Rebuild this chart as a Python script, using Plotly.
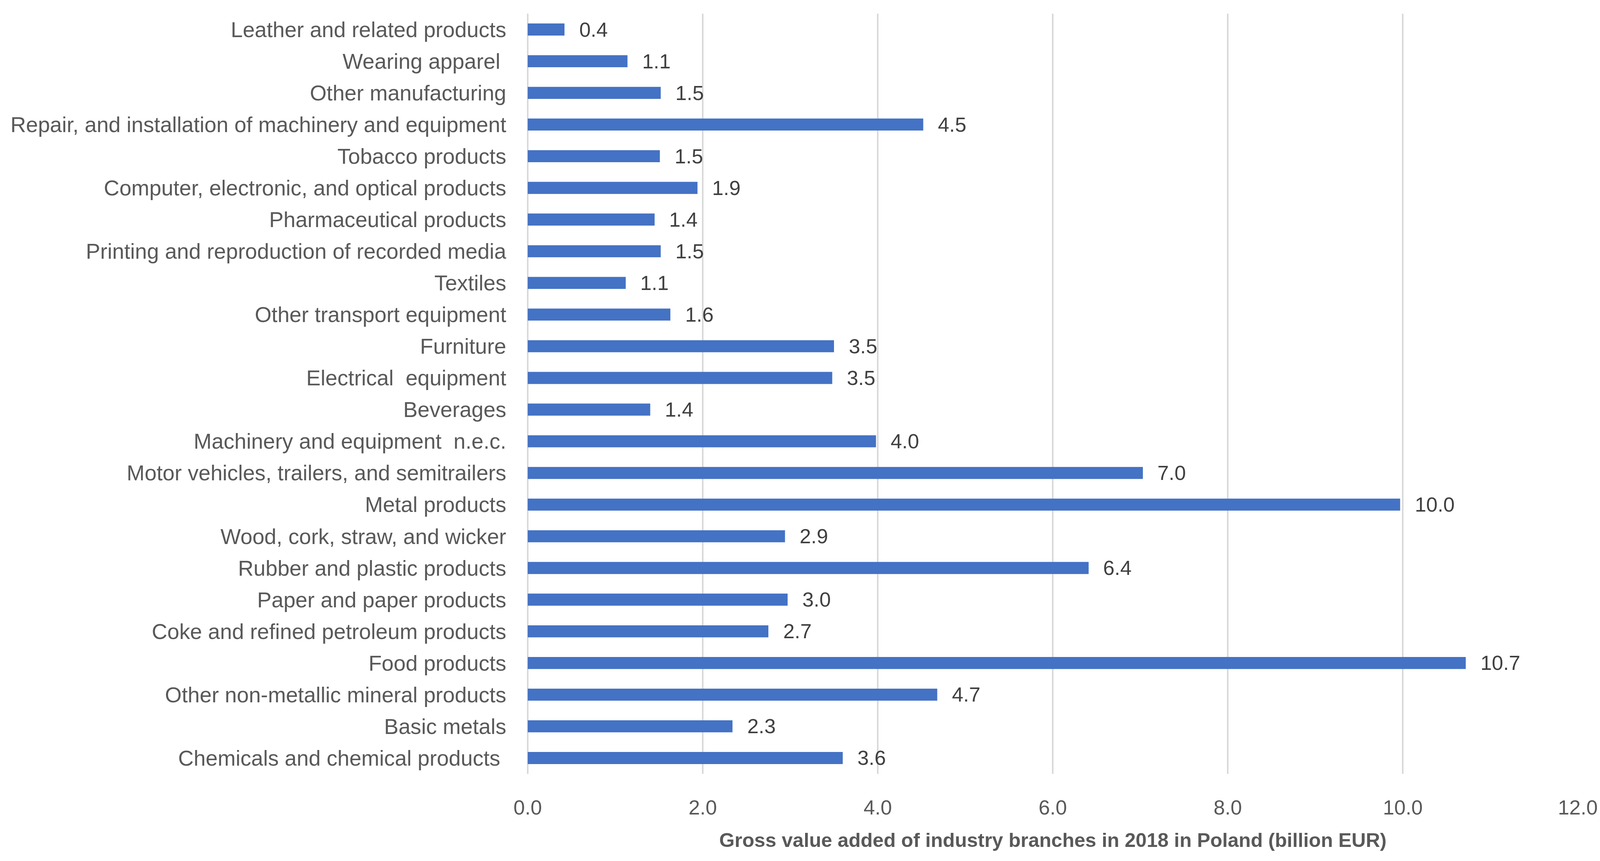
import plotly.graph_objects as go

categories = [
    "Leather and related products",
    "Wearing apparel ",
    "Other manufacturing",
    "Repair, and installation of machinery and equipment",
    "Tobacco products",
    "Computer, electronic, and optical products",
    "Pharmaceutical products",
    "Printing and reproduction of recorded media",
    "Textiles",
    "Other transport equipment",
    "Furniture",
    "Electrical  equipment",
    "Beverages",
    "Machinery and equipment  n.e.c.",
    "Motor vehicles, trailers, and semitrailers",
    "Metal products",
    "Wood, cork, straw, and wicker",
    "Rubber and plastic products",
    "Paper and paper products",
    "Coke and refined petroleum products",
    "Food products",
    "Other non-metallic mineral products",
    "Basic metals",
    "Chemicals and chemical products ",
]
values = [0.42, 1.14, 1.52, 4.52, 1.51, 1.94, 1.45, 1.52, 1.12, 1.63, 3.50, 3.48, 1.40,
          3.98, 7.03, 9.97, 2.94, 6.41, 2.97, 2.75, 10.72, 4.68, 2.34, 3.60]
value_labels = ["0.4", "1.1", "1.5", "4.5", "1.5", "1.9", "1.4", "1.5", "1.1", "1.6", "3.5", "3.5", "1.4",
                "4.0", "7.0", "10.0", "2.9", "6.4", "3.0", "2.7", "10.7", "4.7", "2.3", "3.6"]
x_tick_vals = [0, 2, 4, 6, 8, 10, 12]
x_tick_text = ["0.0", "2.0", "4.0", "6.0", "8.0", "10.0", "12.0"]
x_title = "Gross value added of industry branches in 2018 in Poland (billion EUR)"

FONT = "Liberation Sans, Arial, sans-serif"
S = 0.935  # layout scale for the browser's CSS viewport

fig = go.Figure(go.Bar(
    x=values, y=categories, orientation="h",
    marker=dict(color="#4472C4", line=dict(width=0)),
    hoverinfo="x+y",
))

annotations = [
    dict(x=v, y=c, text=t, xref="x", yref="y", xanchor="left", yanchor="middle",
         xshift=38 * S, showarrow=False, font=dict(family=FONT, size=56 * S, color="#404040"))
    for v, c, t in zip(values, categories, value_labels)
]

fig.update_layout(
    autosize=True,
    margin=dict(l=round(1445 * S), r=round(60 * S), t=round(37 * S), b=round(238 * S)),
    paper_bgcolor="white", plot_bgcolor="white",
    bargap=0.62,
    showlegend=False,
    annotations=annotations,
    font=dict(family=FONT, color="#595959"),
)
fig.update_xaxes(
    range=[0, 12.004], tickvals=x_tick_vals, ticktext=x_tick_text,
    showgrid=True, gridcolor="#D9D9D9", gridwidth=4 * S,
    zeroline=True, zerolinecolor="#D9D9D9", zerolinewidth=4 * S,
    showline=False, ticks="",
    tickfont=dict(family=FONT, size=56 * S, color="#595959"),
    ticklabelstandoff=round(55 * S),
    ticklabeloverflow="allow",
    title=dict(text="<b>" + x_title + "</b>", font=dict(family=FONT, size=54 * S, color="#595959"),
               standoff=round(40 * S)),
    automargin=False,
)
fig.update_yaxes(
    categoryorder="array", categoryarray=categories,
    autorange="reversed",
    showgrid=False, showline=False, ticks="",
    tickfont=dict(family=FONT, size=59 * S, color="#595959"),
    ticklabelstandoff=round(58 * S),
    automargin=False,
)

fig.write_html("out.html", default_width="100%", default_height="100vh",
               config={"displayModeBar": False},
               post_script="document.body.style.margin='0';document.body.style.overflow='hidden';window.dispatchEvent(new Event('resize'));")
